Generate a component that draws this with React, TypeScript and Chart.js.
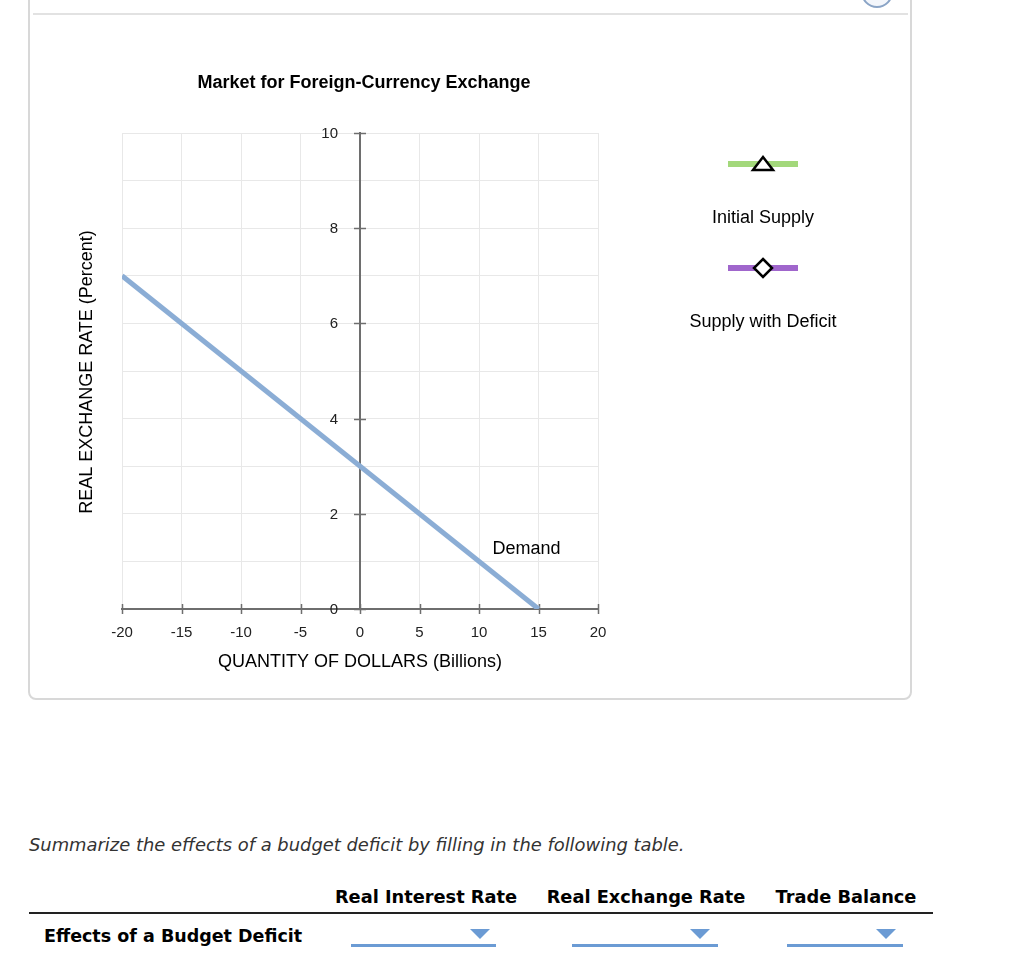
import React, { useEffect, useRef } from 'react';
import { Chart, registerables } from 'chart.js';

Chart.register(...registerables);

// ---- data ----
const xTickMin = -20;
const xTickMax = 20;
const xTickStep = 5;
const yTickMin = 0;
const yTickMax = 10;
const yTickStep = 1;
const yLabelStep = 2;

const demandQuantity = [-20, 15];
const demandRate = [7, 0];
const initialSupplyQuantity: number[] = [];
const initialSupplyRate: number[] = [];
const deficitSupplyQuantity: number[] = [];
const deficitSupplyRate: number[] = [];

const seriesNames = ['Demand', 'Initial Supply', 'Supply with Deficit'];
const chartTitle = 'Market for Foreign-Currency Exchange';
const xAxisTitle = 'QUANTITY OF DOLLARS (Billions)';
const yAxisTitle = 'REAL EXCHANGE RATE (Percent)';
const demandLabelAt = [14.0, 1.28];

const promptText = 'Summarize the effects of a budget deficit by filling in the following table.';
const tableColumns = ['Real Interest Rate', 'Real Exchange Rate', 'Trade Balance'];
const tableRowLabel = 'Effects of a Budget Deficit';

const FONT = '"Liberation Sans", Arial, Helvetica, sans-serif';
const PAGE_FONT = '"DejaVu Sans", Verdana, sans-serif';
const AXIS_COLOR = '#6e6e6e';

const toPoints = (xs: number[], ys: number[]) => xs.map((x, i) => ({ x, y: ys[i] }));

const decorPlugin = {
  id: 'decor',
  beforeDatasetsDraw(chart: any) {
    const { ctx, scales } = chart;
    const xs = scales.x;
    const ys = scales.y;
    const x0 = xs.getPixelForValue(0);
    const y0 = ys.getPixelForValue(0);
    ctx.save();
    ctx.strokeStyle = AXIS_COLOR;
    ctx.lineWidth = 1.5;
    xs.ticks.forEach((t: any) => {
      const px = Math.round(xs.getPixelForValue(t.value)) + 0.5;
      ctx.beginPath();
      ctx.moveTo(px, y0 - 5);
      ctx.lineTo(px, y0 + 5);
      ctx.stroke();
    });
    ctx.fillStyle = '#222';
    ctx.font = `15px ${FONT}`;
    ctx.textAlign = 'right';
    ctx.textBaseline = 'middle';
    ys.ticks.forEach((t: any) => {
      if (t.value % yLabelStep !== 0) return;
      const py = Math.round(ys.getPixelForValue(t.value)) + 0.5;
      ctx.beginPath();
      ctx.moveTo(x0 - 6, py);
      ctx.lineTo(x0 + 6, py);
      ctx.stroke();
      ctx.fillText(String(t.value), x0 - 22, py);
    });
    ctx.restore();
  },
  afterDraw(chart: any) {
    const { ctx, scales, chartArea, data } = chart;
    const xs = scales.x;
    const ys = scales.y;
    ctx.save();
    ctx.fillStyle = '#000';
    ctx.textAlign = 'center';
    ctx.textBaseline = 'middle';

    // chart title
    ctx.font = `bold 18px ${FONT}`;
    ctx.fillText(chartTitle, (chartArea.left + chartArea.right) / 2 + 4, chartArea.top - 50);

    // axis titles
    ctx.font = `18px ${FONT}`;
    ctx.fillText(xAxisTitle, (chartArea.left + chartArea.right) / 2, chartArea.bottom + 53);
    ctx.save();
    ctx.translate(chartArea.left - 35, (chartArea.top + chartArea.bottom) / 2 + 1);
    ctx.rotate(-Math.PI / 2);
    ctx.fillText(yAxisTitle, 0, 0);
    ctx.restore();

    // demand label
    ctx.fillText(seriesNames[0], xs.getPixelForValue(demandLabelAt[0]), ys.getPixelForValue(demandLabelAt[1]) + 1);

    // legend for the supply curves
    const cx = chartArea.right + 165;
    const rows = [
      { ds: data.datasets[1], y: chartArea.top + 31, marker: 'triangle' },
      { ds: data.datasets[2], y: chartArea.top + 135, marker: 'diamond' },
    ];
    rows.forEach((r) => {
      ctx.strokeStyle = r.ds.borderColor;
      ctx.lineWidth = 6;
      ctx.beginPath();
      ctx.moveTo(cx - 35, r.y);
      ctx.lineTo(cx + 35, r.y);
      ctx.stroke();
      ctx.fillStyle = '#fff';
      ctx.strokeStyle = '#000';
      ctx.lineWidth = 2.5;
      ctx.beginPath();
      if (r.marker === 'triangle') {
        ctx.moveTo(cx, r.y - 7);
        ctx.lineTo(cx + 10, r.y + 6);
        ctx.lineTo(cx - 10, r.y + 6);
      } else {
        ctx.moveTo(cx, r.y - 9);
        ctx.lineTo(cx + 9, r.y);
        ctx.lineTo(cx, r.y + 9);
        ctx.lineTo(cx - 9, r.y);
      }
      ctx.closePath();
      ctx.fill();
      ctx.stroke();
      ctx.fillStyle = '#000';
      ctx.font = `18px ${FONT}`;
      ctx.fillText(r.ds.label, cx, r.y + 54);
    });
    ctx.restore();
  },
};

function ChartCanvas() {
  const ref = useRef<HTMLCanvasElement | null>(null);
  useEffect(() => {
    if (!ref.current) return;
    const tickFont = { family: FONT, size: 15 };
    const chart = new Chart(ref.current, {
      type: 'scatter',
      data: {
        datasets: [
          {
            label: seriesNames[0],
            data: toPoints(demandQuantity, demandRate),
            showLine: true,
            borderColor: '#8badd5',
            backgroundColor: '#8badd5',
            borderWidth: 5,
            pointRadius: 0,
          },
          {
            label: seriesNames[1],
            data: toPoints(initialSupplyQuantity, initialSupplyRate),
            showLine: true,
            borderColor: '#a3d87b',
            backgroundColor: '#ffffff',
            borderWidth: 5,
            pointStyle: 'triangle',
          },
          {
            label: seriesNames[2],
            data: toPoints(deficitSupplyQuantity, deficitSupplyRate),
            showLine: true,
            borderColor: '#a066cc',
            backgroundColor: '#ffffff',
            borderWidth: 5,
            pointStyle: 'rectRot',
          },
        ],
      },
      options: {
        animation: false,
        responsive: false,
        maintainAspectRatio: false,
        layout: { padding: { left: 92, top: 113, right: 312, bottom: 81 } },
        plugins: { legend: { display: false }, tooltip: { enabled: false }, title: { display: false } },
        scales: {
          x: {
            type: 'linear',
            position: { y: 0 } as any,
            min: xTickMin,
            max: xTickMax,
            ticks: { stepSize: xTickStep, font: tickFont, color: '#222', padding: 9, maxRotation: 0 },
            grid: { color: '#e8e8e8', lineWidth: 1, tickLength: 6, tickColor: 'rgba(0,0,0,0)' },
            border: { color: AXIS_COLOR, width: 2 },
          },
          y: {
            type: 'linear',
            position: { x: 0 } as any,
            min: yTickMin,
            max: yTickMax,
            ticks: { stepSize: yTickStep, display: false },
            grid: { color: '#e8e8e8', lineWidth: 1, tickLength: 6, tickColor: 'rgba(0,0,0,0)' },
            border: { color: AXIS_COLOR, width: 2 },
          },
        },
      },
      plugins: [decorPlugin],
    } as any);
    return () => chart.destroy();
  }, []);
  return (
    <canvas
      ref={ref}
      width={880}
      height={670}
      style={{ position: 'absolute', left: 30, top: 20, width: 880, height: 670 }}
    />
  );
}

const colCenters = [426, 646, 846];
const dropdowns = [
  { left: 351, right: 496, tri: 480 },
  { left: 572, right: 718, tri: 700 },
  { left: 787, right: 903, tri: 886 },
];

export default function App() {
  const ddColor = '#6b9bd4';
  return (
    <div
      style={{
        position: 'absolute',
        left: 0,
        top: 0,
        width: 1024,
        height: 979,
        overflow: 'hidden',
        background: '#fff',
        fontFamily: PAGE_FONT,
        color: '#000',
      }}
    >
      <div
        style={{
          position: 'absolute',
          left: 28,
          top: -30,
          width: 884,
          height: 730,
          boxSizing: 'border-box',
          border: '2px solid #d8d8d8',
          borderRadius: 8,
        }}
      />
      <div style={{ position: 'absolute', left: 33, top: 13, width: 875, height: 2, background: '#e2e2e2' }} />
      <div
        style={{
          position: 'absolute',
          left: 861,
          top: -24,
          width: 32,
          height: 32,
          boxSizing: 'border-box',
          borderRadius: '50%',
          border: '2px solid #8aa4c6',
          background: '#f3f6fb',
        }}
      />
      <ChartCanvas />
      <div
        style={{
          position: 'absolute',
          left: 29,
          top: 834,
          fontSize: 17.9,
          lineHeight: '22px',
          fontStyle: 'italic',
          color: '#333',
          whiteSpace: 'nowrap',
        }}
      >
        {promptText}
      </div>
      {tableColumns.map((c, i) => (
        <div
          key={c}
          style={{
            position: 'absolute',
            left: colCenters[i] - 120,
            width: 240,
            top: 886,
            textAlign: 'center',
            fontSize: 17.8,
            lineHeight: '22px',
            fontWeight: 'bold',
            whiteSpace: 'nowrap',
          }}
        >
          {c}
        </div>
      ))}
      <div style={{ position: 'absolute', left: 29, top: 912, width: 904, height: 2, background: '#222' }} />
      <div
        style={{
          position: 'absolute',
          left: 44,
          top: 925,
          fontSize: 17.5,
          lineHeight: '22px',
          fontWeight: 'bold',
          whiteSpace: 'nowrap',
        }}
      >
        {tableRowLabel}
      </div>
      {dropdowns.map((d, i) => (
        <React.Fragment key={i}>
          <div
            style={{
              position: 'absolute',
              left: d.left,
              top: 944,
              width: d.right - d.left,
              height: 3,
              background: ddColor,
            }}
          />
          <div
            style={{
              position: 'absolute',
              left: d.tri - 10,
              top: 929,
              width: 0,
              height: 0,
              borderLeft: '10px solid transparent',
              borderRight: '10px solid transparent',
              borderTop: `10px solid ${ddColor}`,
            }}
          />
        </React.Fragment>
      ))}
    </div>
  );
}
